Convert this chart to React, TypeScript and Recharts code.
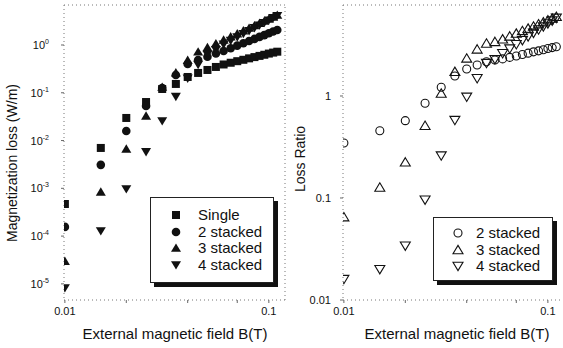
import React from 'react';
import { ScatterChart, Scatter, XAxis, YAxis, ReferenceLine, Legend, Label } from 'recharts';

const FONT = "'Liberation Sans', Arial, Helvetica, sans-serif";
const INK = '#111';

// external field B (T)
const fieldB = [
  0.01, 0.015, 0.02, 0.025, 0.03, 0.035, 0.04, 0.045, 0.05, 0.055, 0.06,
  0.065, 0.07, 0.075, 0.08, 0.085, 0.09, 0.095, 0.1, 0.105, 0.11,
];

// magnetization loss (W/m)
const lossSingle = [
  4.7e-4, 7.0e-3, 0.0297, 0.064, 0.12, 0.153, 0.214, 0.26, 0.3, 0.347, 0.391,
  0.425, 0.458, 0.49, 0.525, 0.558, 0.591, 0.624, 0.661, 0.693, 0.724,
];
const loss2 = [
  1.56e-4, 3.1e-3, 0.0159, 0.053, 0.126, 0.236, 0.4, 0.485, 0.569, 0.664, 0.749,
  0.857, 0.971, 1.085, 1.21, 1.34, 1.48, 1.61, 1.76, 1.91, 2.06,
];
const loss3 = [
  3.0e-5, 8.4e-4, 6.7e-3, 0.0327, 0.132, 0.264, 0.48, 0.72, 0.891, 1.075, 1.28,
  1.5, 1.73, 1.99, 2.26, 2.55, 2.86, 3.18, 3.52, 3.87, 4.24,
];
const loss4 = [
  8.2e-6, 1.28e-4, 9.7e-4, 5.8e-3, 0.0257, 0.083, 0.201, 0.389, 0.63, 0.794, 1.03,
  1.24, 1.46, 1.72, 1.98, 2.28, 2.59, 2.93, 3.3, 3.69, 4.1,
];

// loss ratio (stacked / single)
const ratio2 = [
  0.346, 0.457, 0.573, 0.848, 1.22, 1.57, 1.84, 2.01, 2.17, 2.25, 2.31,
  2.39, 2.47, 2.55, 2.63, 2.71, 2.77, 2.84, 2.92, 2.98, 3.04,
];
const ratio3 = [
  0.065, 0.127, 0.224, 0.512, 1.06, 1.73, 2.34, 2.87, 3.28, 3.4, 3.6,
  3.85, 4.1, 4.35, 4.59, 4.82, 5.07, 5.3, 5.54, 5.76, 5.99,
];
const ratio4 = [
  0.016, 0.02, 0.034, 0.096, 0.26, 0.58, 0.98, 1.49, 2.1, 2.29, 2.62,
  2.91, 3.21, 3.52, 3.83, 4.15, 4.48, 4.8, 5.14, 5.47, 5.82,
];

const lossNames = ['Single', '2 stacked', '3 stacked', '4 stacked'];
const ratioNames = ['2 stacked', '3 stacked', '4 stacked'];

const fieldTicks = [0.01, 0.02, 0.03, 0.04, 0.05, 0.06, 0.07, 0.08, 0.09, 0.1];
const lossTicks = [1e-5, 1e-4, 1e-3, 1e-2, 1e-1, 1];
const ratioTicks = [0.01, 0.1, 1];

const fieldDomain = [0.0099, 0.12];
const fieldDomainR = [0.0099, 0.1186];
const lossDomain = [4.6e-6, 6.87];
const ratioDomain = [0.01, 7.8];

const toPoints = (ys: number[]) => fieldB.map((x, i) => ({ x, y: ys[i] }));

type Kind = 'square' | 'circle' | 'up' | 'down';

const Mark = ({ cx, cy, kind, hollow }: { cx: number; cy: number; kind: Kind; hollow?: boolean }) => {
  const fill = hollow ? 'none' : INK;
  const stroke = hollow ? INK : 'none';
  const sw = hollow ? 1.1 : 0;
  if (kind === 'square') return <rect x={cx - 4} y={cy - 4} width={8} height={8} fill={fill} stroke={stroke} strokeWidth={sw} />;
  if (kind === 'circle') return <circle cx={cx} cy={cy} r={hollow ? 4 : 4.3} fill={fill} stroke={stroke} strokeWidth={sw} />;
  if (kind === 'up')
    return <polygon points={`${cx},${cy - 4.6} ${cx + 5},${cy + 3.8} ${cx - 5},${cy + 3.8}`} fill={fill} stroke={stroke} strokeWidth={sw} />;
  return <polygon points={`${cx - 5},${cy - 3.8} ${cx + 5},${cy - 3.8} ${cx},${cy + 4.6}`} fill={fill} stroke={stroke} strokeWidth={sw} />;
};

const shapeOf = (kind: Kind, hollow?: boolean) => (p: any) => <Mark cx={p.cx} cy={p.cy} kind={kind} hollow={hollow} />;

const FieldTick = ({ x, y, payload }: any) => {
  const v = payload.value;
  const label = Math.abs(v - 0.01) < 1e-6 ? '0.01' : Math.abs(v - 0.1) < 1e-6 ? '0.1' : null;
  if (!label) return <g />;
  return (
    <text x={x} y={y} dy="0.8em" textAnchor="middle" fontSize={11} fill={INK} fontFamily={FONT}>
      {label}
    </text>
  );
};

const LossTick = ({ x, y, payload }: any) => {
  const exp = Math.round(Math.log10(payload.value));
  return (
    <text x={x} y={y} dy={4} textAnchor="end" fontSize={11} fill={INK} fontFamily={FONT}>
      10
      <tspan dy={-5} fontSize={7}>{exp}</tspan>
    </text>
  );
};

const RatioTick = ({ x, y, payload }: any) => (
  <text x={x} y={y} dy={4} textAnchor="end" fontSize={11} fill={INK} fontFamily={FONT}>
    {payload.value}
  </text>
);

const dotted = { stroke: '#777', strokeDasharray: '1 3' };

const LegendBox = ({ names, kinds, hollow, w, h, padTop, markX, textX }: any) => (
  <div
    style={{
      width: w,
      height: h,
      boxSizing: 'border-box',
      border: '1px solid #222',
      boxShadow: '4px 4px 0 #111',
      background: '#fff',
      paddingTop: padTop,
      fontFamily: FONT,
      fontSize: 15,
      color: INK,
    }}
  >
    {names.map((n: string, i: number) => (
      <div key={n} style={{ position: 'relative', height: 16.6, lineHeight: '16.6px' }}>
        <svg width={14} height={14} style={{ position: 'absolute', left: markX - 7, top: 1.3 }}>
          <Mark cx={7} cy={7} kind={kinds[i]} hollow={hollow} />
        </svg>
        <span style={{ position: 'absolute', left: textX }}>{n}</span>
      </div>
    ))}
  </div>
);

export default function App() {
  return (
    <div style={{ position: 'absolute', left: 0, top: 0, width: 563, height: 348, background: '#fff' }}>
      <div style={{ position: 'absolute', left: 0, top: 0 }}>
        <ScatterChart width={290} height={348} margin={{ top: 5, right: 5, bottom: 0, left: 14 }}>
          <XAxis
            type="number"
            dataKey="x"
            scale="log"
            domain={fieldDomain}
            allowDataOverflow
            ticks={fieldTicks}
            tick={<FieldTick />}
            tickSize={3}
            tickMargin={3}
            height={48}
            axisLine={dotted}
            tickLine={{ stroke: '#666' }}
          >
            <Label
              content={() => (
                <text x={175} y={339} textAnchor="middle" fontSize={15} fill={INK} fontFamily={FONT}>
                  External magnetic field B(T)
                </text>
              )}
            />
          </XAxis>
          <YAxis
            type="number"
            dataKey="y"
            scale="log"
            domain={lossDomain}
            allowDataOverflow
            ticks={lossTicks}
            tick={<LossTick />}
            tickSize={3}
            tickMargin={12}
            width={50}
            axisLine={dotted}
            tickLine={{ stroke: '#666' }}
          >
            <Label
              content={() => (
                <text x={17} y={163} transform="rotate(-90 17 163)" textAnchor="middle" fontSize={14} fill={INK} fontFamily={FONT}>
                  Magnetization loss (W/m)
                </text>
              )}
            />
          </YAxis>
          <ReferenceLine y={lossDomain[1]} ifOverflow="visible" {...dotted} />
          <ReferenceLine x={fieldDomain[1]} ifOverflow="visible" {...dotted} />
          <Scatter name={lossNames[0]} data={toPoints(lossSingle)} shape={shapeOf('square')} isAnimationActive={false} />
          <Scatter name={lossNames[1]} data={toPoints(loss2)} shape={shapeOf('circle')} isAnimationActive={false} />
          <Scatter name={lossNames[2]} data={toPoints(loss3)} shape={shapeOf('up')} isAnimationActive={false} />
          <Scatter name={lossNames[3]} data={toPoints(loss4)} shape={shapeOf('down')} isAnimationActive={false} />
          <Legend
            layout="vertical"
            align="center"
            verticalAlign="middle"
            wrapperStyle={{ left: 150, top: 197, width: 124, height: 86 }}
            content={() => (
              <LegendBox names={lossNames} kinds={['square', 'circle', 'up', 'down']} w={124} h={86} padTop={9} markX={25} textX={47} />
            )}
          />
        </ScatterChart>
      </div>

      <div style={{ position: 'absolute', left: 282, top: 0 }}>
        <ScatterChart width={281} height={348} margin={{ top: 5, right: 0, bottom: 0, left: 13 }}>
          <XAxis
            type="number"
            dataKey="x"
            scale="log"
            domain={fieldDomainR}
            allowDataOverflow
            ticks={fieldTicks}
            tick={<FieldTick />}
            tickSize={3}
            tickMargin={3}
            height={48}
            axisLine={dotted}
            tickLine={{ stroke: '#666' }}
          >
            <Label
              content={() => (
                <text x={175} y={339} textAnchor="middle" fontSize={15} fill={INK} fontFamily={FONT}>
                  External magnetic field B(T)
                </text>
              )}
            />
          </XAxis>
          <YAxis
            type="number"
            dataKey="y"
            scale="log"
            domain={ratioDomain}
            allowDataOverflow
            ticks={ratioTicks}
            tick={<RatioTick />}
            tickSize={3}
            tickMargin={9}
            width={48}
            axisLine={dotted}
            tickLine={{ stroke: '#666' }}
          >
            <Label
              content={() => (
                <text x={23} y={159} transform="rotate(-90 23 159)" textAnchor="middle" fontSize={14} fill={INK} fontFamily={FONT}>
                  Loss Ratio
                </text>
              )}
            />
          </YAxis>
          <ReferenceLine y={ratioDomain[1]} ifOverflow="visible" {...dotted} />
          <Scatter name={ratioNames[0]} data={toPoints(ratio2)} shape={shapeOf('circle', true)} isAnimationActive={false} />
          <Scatter name={ratioNames[1]} data={toPoints(ratio3)} shape={shapeOf('up', true)} isAnimationActive={false} />
          <Scatter name={ratioNames[2]} data={toPoints(ratio4)} shape={shapeOf('down', true)} isAnimationActive={false} />
          <Legend
            layout="vertical"
            align="center"
            verticalAlign="middle"
            wrapperStyle={{ left: 151, top: 217, width: 120, height: 64 }}
            content={() => (
              <LegendBox names={ratioNames} kinds={['circle', 'up', 'down']} hollow w={120} h={64} padTop={7} markX={24} textX={42} />
            )}
          />
        </ScatterChart>
      </div>
    </div>
  );
}
